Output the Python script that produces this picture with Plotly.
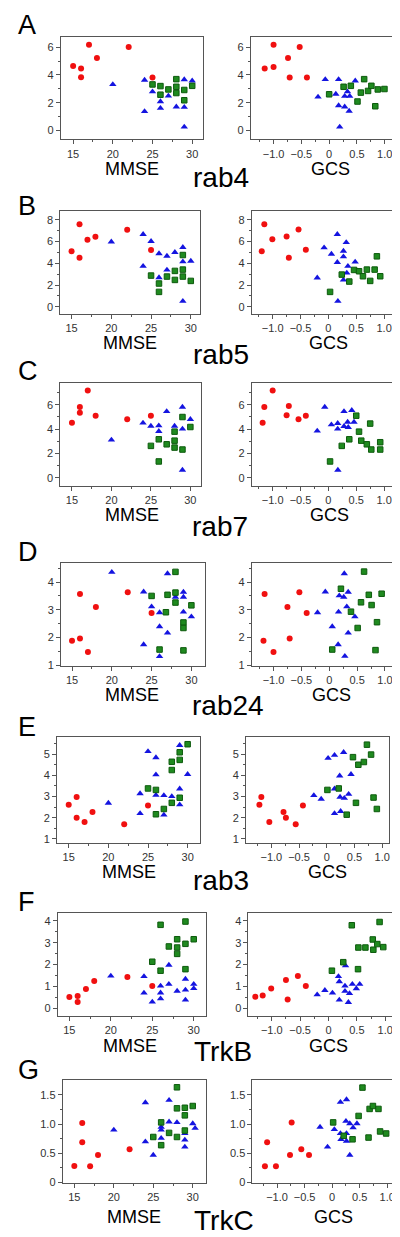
import plotly.graph_objects as go

# ---------------- data ----------------
row_titles = ["rab4", "rab5", "rab7", "rab24", "rab3", "TrkB", "TrkC"]
panel_letters = ["A", "B", "C", "D", "E", "F", "G"]

# rab4
rab4_mmse_red = [(15,4.65),(16,4.46),(16,3.84),(17,6.17),(18,5.22),(22,6.02),(25,3.82)]
rab4_mmse_blue = [(20,3.32),(24,3.63),(24,1.38),(25,2.80),(26,2.09),(26,1.61),(27,2.49),(28,1.71),(29,3.67),(29,1.68),(29,0.26),(30,3.58)]
rab4_mmse_green = [(25,3.32),(26,3.20),(26,2.58),(27,2.96),(28,3.70),(28,3.15),(28,2.70),(29,2.92),(29,2.18),(30,3.22)]
rab4_gcs_red = [(-1.16,4.46),(-1.0,4.58),(-1.0,6.17),(-0.74,5.22),(-0.71,3.82),(-0.53,6.02),(-0.40,3.82)]
rab4_gcs_blue = [(-0.20,2.42),(-0.07,3.68),(0.12,2.63),(0.17,3.68),(0.17,1.80),(0.19,0.26),(0.28,1.71),(0.28,2.47),(0.33,2.80),(0.37,2.47),(0.36,1.40),(0.47,3.58)]
rab4_gcs_green = [(0.0,2.61),(0.26,3.15),(0.39,3.22),(0.51,2.09),(0.57,2.73),(0.63,3.70),(0.70,2.85),(0.76,3.22),(0.83,1.75),(0.875,2.96),(0.995,2.99)]

# rab5
rab5_mmse_red = [(15,5.10),(16,7.60),(16,4.52),(17,6.17),(18,6.44),(22,7.08),(25,5.22)]
rab5_mmse_blue = [(20,5.98),(24,6.66),(24,3.73),(25,6.02),(26,4.89),(26,2.69),(27,4.67),(27,3.39),(28,5.01),(29,5.47),(29,4.15),(29,0.52),(30,4.21)]
rab5_mmse_green = [(25,2.87),(26,2.14),(26,1.37),(27,2.78),(28,3.30),(28,2.47),(29,4.76),(29,3.42),(29,2.78),(30,2.38)]
rab5_gcs_red = [(-1.196,5.10),(-1.15,7.60),(-1.006,6.20),(-0.75,6.47),(-0.71,4.52),(-0.536,7.11),(-0.405,5.25)]
rab5_gcs_blue = [(-0.20,2.66),(-0.077,5.44),(0.054,4.85),(0.16,6.66),(0.16,4.09),(0.17,0.52),(0.27,5.13),(0.27,4.61),(0.27,2.47),(0.32,5.92),(0.35,3.73),(0.33,3.11),(0.48,4.12)]
rab5_gcs_green = [(0.03,1.37),(0.24,2.96),(0.375,2.32),(0.46,3.39),(0.55,3.27),(0.62,2.81),(0.69,3.42),(0.75,2.38),(0.83,3.42),(0.87,4.64),(0.93,2.81)]

# rab7
rab7_mmse_red = [(15,4.53),(16,5.81),(16,5.35),(17,7.17),(18,5.10),(22,4.80),(25,5.10)]
rab7_mmse_blue = [(20,3.11),(24,4.50),(25,4.25),(26,4.28),(26,3.82),(27,5.45),(28,4.25),(29,5.81),(29,4.01),(29,0.63),(30,4.80)]
rab7_mmse_green = [(25,2.62),(26,3.16),(26,1.34),(27,2.75),(28,3.79),(28,3.05),(28,2.48),(29,4.99),(29,2.32),(30,4.17)]
rab7_gcs_red = [(-1.18,4.53),(-1.15,5.81),(-1.0,7.17),(-0.75,5.13),(-0.71,5.89),(-0.536,4.80),(-0.405,5.10)]
rab7_gcs_blue = [(-0.20,3.85),(-0.065,5.81),(0.054,4.36),(0.167,4.47),(0.167,4.01),(0.17,0.63),(0.28,5.45),(0.28,4.23),(0.345,4.58),(0.357,4.15),(0.42,5.54),(0.46,4.58)]
rab7_gcs_green = [(0.03,1.34),(0.24,2.62),(0.375,3.16),(0.50,5.10),(0.55,3.79),(0.59,3.05),(0.69,2.75),(0.75,4.45),(0.77,2.32),(0.93,2.92),(0.93,2.32)]

# rab24
rab24_mmse_red = [(15,1.88),(16,1.96),(16,3.57),(17,1.47),(18,3.10),(22,3.63),(25,2.88)]
rab24_mmse_blue = [(20,4.36),(24,3.65),(24,1.74),(25,3.11),(26,2.90),(26,2.39),(26,1.31),(27,4.31),(27,2.16),(28,3.46),(29,3.64),(29,3.46),(29,2.92),(30,2.75)]
rab24_mmse_green = [(25,3.50),(26,1.56),(26.8,2.91),(27,3.54),(28,4.37),(28,3.62),(28,3.26),(29,2.54),(29,2.34),(29,1.53),(30,3.16)]
rab24_gcs_red = [(-1.18,1.88),(-1.16,3.57),(-1.0,1.47),(-0.75,3.10),(-0.71,1.96),(-0.536,3.63),(-0.405,2.88)]
rab24_gcs_blue = [(-0.21,2.90),(-0.07,3.65),(0.054,2.39),(0.16,1.74),(0.167,2.92),(0.18,3.51),(0.26,3.46),(0.27,4.31),(0.28,1.32),(0.315,3.11),(0.34,3.64),(0.34,2.16),(0.46,2.75)]
rab24_gcs_green = [(0.054,1.56),(0.21,3.76),(0.39,2.93),(0.51,2.34),(0.57,3.27),(0.625,4.38),(0.71,3.54),(0.76,3.17),(0.83,1.54),(0.857,2.55),(0.94,3.58)]

# rab3
rab3_mmse_red = [(15,2.61),(16,2.98),(16,2.00),(17,1.80),(18,2.27),(22,1.69),(25,2.58)]
rab3_mmse_blue = [(20,2.69),(24,3.14),(24,2.20),(25,5.13),(26,4.84),(26,4.03),(26,3.06),(27,3.05),(27,2.13),(28,3.00),(29,5.42),(29,3.36),(29,2.61),(30,4.05)]
rab3_mmse_green = [(25,3.38),(26,3.31),(26,2.16),(27,2.41),(28,4.64),(28,4.25),(28,2.70),(29,5.09),(29,4.73),(29,2.94),(30,5.47)]
rab3_gcs_red = [(-1.215,2.61),(-1.18,2.98),(-1.036,1.80),(-0.78,2.27),(-0.737,2.00),(-0.56,1.69),(-0.43,2.58)]
rab3_gcs_blue = [(-0.233,3.05),(-0.10,2.88),(0.024,4.81),(0.14,4.95),(0.14,3.36),(0.14,2.20),(0.233,3.98),(0.24,2.97),(0.25,2.30),(0.305,5.09),(0.317,2.92),(0.395,3.11),(0.437,4.05)]
rab3_gcs_green = [(0.012,3.31),(0.216,3.38),(0.36,2.14),(0.473,4.86),(0.527,2.70),(0.57,4.50),(0.67,4.63),(0.725,5.45),(0.80,4.98),(0.844,2.95),(0.904,2.41)]

# TrkB
trkb_mmse_red = [(15,0.52),(16,0.56),(16,0.29),(17,0.88),(18,1.25),(22,1.43),(25,1.02)]
trkb_mmse_blue = [(20,1.48),(24,1.46),(24,0.70),(25,0.29),(26,1.02),(26,0.71),(26,0.44),(27,1.98),(27,1.10),(28,0.79),(29,1.34),(29,0.84),(29,0.38),(30,1.10),(30,0.91)]
trkb_mmse_green = [(25,2.13),(26,3.82),(26,1.72),(27,2.83),(28,3.16),(28,2.78),(28,2.49),(29,3.97),(29,2.95),(29,1.79),(30,3.16)]
trkb_gcs_red = [(-1.29,0.53),(-1.16,0.59),(-1.01,0.91),(-0.75,1.29),(-0.72,0.40),(-0.54,1.48),(-0.40,1.02)]
trkb_gcs_blue = [(-0.20,0.62),(-0.064,0.82),(0.07,0.70),(0.175,1.46),(0.19,1.22),(0.19,0.38),(0.29,1.02),(0.30,1.95),(0.29,0.78),(0.35,0.27),(0.37,0.68),(0.42,1.10),(0.49,0.90),(0.55,1.10)]
trkb_gcs_green = [(0.06,1.72),(0.26,2.11),(0.41,3.80),(0.52,1.79),(0.526,2.78),(0.65,2.78),(0.78,3.15),(0.79,2.68),(0.86,2.94),(0.90,3.95),(0.965,2.80)]

# TrkC
trkc_mmse_red = [(15,0.284),(16,1.02),(16,0.69),(17,0.28),(18,0.47),(22,0.57)]
trkc_mmse_blue = [(20,0.90),(24,1.37),(24,0.70),(25,0.47),(26,0.95),(26,0.90),(26,0.76),(27,1.41),(27,1.04),(28,1.03),(29,0.84),(29,0.73),(29,0.61),(30,1.01),(30.3,0.93)]
trkc_mmse_green = [(25,0.78),(26,1.03),(26,0.64),(27,0.85),(28,1.63),(28,1.27),(28,0.78),(29,1.28),(29,1.15),(29,0.89),(30,1.31)]
trkc_gcs_red = [(-1.22,0.28),(-1.18,0.69),(-1.02,0.28),(-0.765,0.47),(-0.735,1.03),(-0.56,0.57),(-0.42,0.47)]
trkc_gcs_blue = [(-0.22,0.95),(-0.084,0.61),(0.04,0.91),(0.15,1.375),(0.15,0.84),(0.16,0.74),(0.25,1.05),(0.26,1.42),(0.26,0.84),(0.26,0.71),(0.32,1.01),(0.32,0.47),(0.38,0.94),(0.45,1.01)]
trkc_gcs_green = [(0.018,1.03),(0.21,0.80),(0.37,0.74),(0.48,1.14),(0.55,1.625),(0.66,0.77),(0.68,1.26),(0.74,1.31),(0.84,1.26),(0.87,0.875),(0.98,0.84)]

# y-axis tick values / labels per row
ytick_vals = [[0,2,4,6],[0,2,4,6,8],[0,2,4,6],[1,2,3,4],[1,2,3,4,5],[0,1,2,3,4],[0,0.5,1.0,1.5]]
ytick_text = [["0","2","4","6"],["0","2","4","6","8"],["0","2","4","6"],["1","2","3","4"],
              ["1","2","3","4","5"],["0","1","2","3","4"],["0","0.5","1.0","1.5"]]
mmse_ticks = [15, 20, 25, 30]
gcs_ticks = [-1.0, -0.5, 0, 0.5, 1.0]
gcs_text = ["\u22121.0", "\u22120.5", "0", "0.5", "1.0"]

panels = [
    (rab4_mmse_red, rab4_mmse_blue, rab4_mmse_green, rab4_gcs_red, rab4_gcs_blue, rab4_gcs_green),
    (rab5_mmse_red, rab5_mmse_blue, rab5_mmse_green, rab5_gcs_red, rab5_gcs_blue, rab5_gcs_green),
    (rab7_mmse_red, rab7_mmse_blue, rab7_mmse_green, rab7_gcs_red, rab7_gcs_blue, rab7_gcs_green),
    (rab24_mmse_red, rab24_mmse_blue, rab24_mmse_green, rab24_gcs_red, rab24_gcs_blue, rab24_gcs_green),
    (rab3_mmse_red, rab3_mmse_blue, rab3_mmse_green, rab3_gcs_red, rab3_gcs_blue, rab3_gcs_green),
    (trkb_mmse_red, trkb_mmse_blue, trkb_mmse_green, trkb_gcs_red, trkb_gcs_blue, trkb_gcs_green),
    (trkc_mmse_red, trkc_mmse_blue, trkc_mmse_green, trkc_gcs_red, trkc_gcs_blue, trkc_gcs_green),
]

# ---------------- layout geometry (pixels) ----------------
W, H = 400, 1237
# left box x, right box x, box y (top,bottom), mmse range, y range, gcs range
geom = [
    ((53, 195.5), (244, 387), (29, 132), (13.44, 31.3), (-0.64, 6.74), (-1.41, 1.15)),
    ((52.7, 193.3), (245, 386.7), (203.7, 307), (13.6, 31.2), (-0.64, 8.82), (-1.375, 1.155)),
    ((52.7, 194.3), (245, 386), (376.7, 480), (13.54, 31.39), (-0.68, 7.77), (-1.375, 1.143)),
    ((53.3, 198.3), (245, 386.7), (557.3, 660.7), (13.62, 31.75), (0.964, 4.69), (-1.39, 1.14)),
    ((49.3, 193.3), (239.3, 383.3), (732, 838), (13.53, 31.6), (0.82, 5.81), (-1.455, 1.13)),
    ((50, 199), (241.7, 386), (908.7, 1012), (13.6, 31.48), (-0.35, 4.36), (-1.41, 1.12)),
    ((55, 199), (245.7, 386.7), (1076.7, 1180), (13.53, 31.68), (-0.011, 1.749), (-1.446, 1.10)),
]
letter_y = [17, 199, 364, 546, 722, 898, 1066]
axis_title_y = [162, 336, 509, 690, 868, 1042, 1214]
mmse_x = [125, 123, 125, 125, 122, 123, 127]
gcs_x = [324, 322, 323, 325, 321, 322, 327]
row_title_y = [170, 348, 521, 700, 876, 1048, 1217]
row_title_x = [214, 214, 213, 221, 214, 216, 217]

RED, BLUE, GREEN = "#f01010", "#1414e0", "#1f8a1f"
FONT = "Liberation Sans, Arial, sans-serif"

fig = go.Figure()
layout = dict(width=W, height=H, margin=dict(l=0, r=0, t=0, b=0),
              paper_bgcolor="white", plot_bgcolor="white", showlegend=False,
              font=dict(family=FONT))
annotations = []

def px_x(v):
    return v / W

def px_y(v):
    return 1 - v / H

def marker(color):
    if color == RED:
        return dict(symbol="circle", size=6, color=RED, line=dict(width=0))
    if color == BLUE:
        return dict(symbol="triangle-up", size=6.5, color=BLUE, line=dict(width=0))
    return dict(symbol="square", size=5.5, color=GREEN, line=dict(width=1, color="#0d5a0d"))

axis_common = dict(showgrid=False, zeroline=False, showline=True, mirror=True,
                   linecolor="#555555", linewidth=1, ticks="outside", ticklen=4,
                   tickcolor="#555555", tickwidth=1,
                   tickfont=dict(size=11, color="#333333", family=FONT))

ax = 0
for r, (sets, g) in enumerate(zip(panels, geom)):
    lx, rx, by, mr, yr, gr = g
    for side in range(2):
        ax += 1
        xa = "x" if ax == 1 else f"x{ax}"
        ya = "y" if ax == 1 else f"y{ax}"
        groups = sets[0:3] if side == 0 else sets[3:6]
        for pts, col in zip(groups, [RED, BLUE, GREEN]):
            fig.add_trace(go.Scatter(x=[p[0] for p in pts], y=[p[1] for p in pts],
                                     mode="markers", marker=marker(col),
                                     xaxis=xa, yaxis=ya, hoverinfo="x+y"))
        bx = lx if side == 0 else rx
        xdict = dict(axis_common, domain=[px_x(bx[0]), px_x(bx[1])], anchor=ya)
        if side == 0:
            xdict.update(range=list(mr), tickvals=mmse_ticks,
                         minor=dict(ticks="outside", ticklen=2, dtick=2.5, tick0=0,
                                    tickcolor="#555555"))
        else:
            xdict.update(range=list(gr), tickvals=gcs_ticks, ticktext=gcs_text,
                         minor=dict(ticks="outside", ticklen=2, dtick=0.25, tick0=0,
                                    tickcolor="#555555"))
        ydict = dict(axis_common, domain=[px_y(by[1]), px_y(by[0])], anchor=xa,
                     range=list(yr), tickvals=ytick_vals[r], ticktext=ytick_text[r],
                     minor=dict(ticks="outside", ticklen=2,
                                dtick=(ytick_vals[r][1] - ytick_vals[r][0]) / 2,
                                tick0=0, tickcolor="#555555"))
        layout["xaxis" if ax == 1 else f"xaxis{ax}"] = xdict
        layout["yaxis" if ax == 1 else f"yaxis{ax}"] = ydict

    annotations.append(dict(text=panel_letters[r], x=px_x(8), y=px_y(letter_y[r]),
                            xref="paper", yref="paper", xanchor="left", yanchor="middle",
                            showarrow=False, font=dict(size=27, color="black", family=FONT)))
    annotations.append(dict(text="MMSE", x=px_x(mmse_x[r]), y=px_y(axis_title_y[r]),
                            xref="paper", yref="paper", xanchor="center", yanchor="middle",
                            showarrow=False, borderpad=0,
                            font=dict(size=18, color="black", family=FONT)))
    annotations.append(dict(text="GCS", x=px_x(gcs_x[r]), y=px_y(axis_title_y[r]),
                            xref="paper", yref="paper", xanchor="center", yanchor="middle",
                            showarrow=False, borderpad=0,
                            font=dict(size=18, color="black", family=FONT)))
    annotations.append(dict(text=row_titles[r], x=px_x(row_title_x[r]), y=px_y(row_title_y[r]),
                            xref="paper", yref="paper", xanchor="center", yanchor="middle",
                            showarrow=False, borderpad=0,
                            font=dict(size=28, color="black", family=FONT)))

layout["annotations"] = annotations
fig.update_layout(**layout)
fig.write_html("out.html")
